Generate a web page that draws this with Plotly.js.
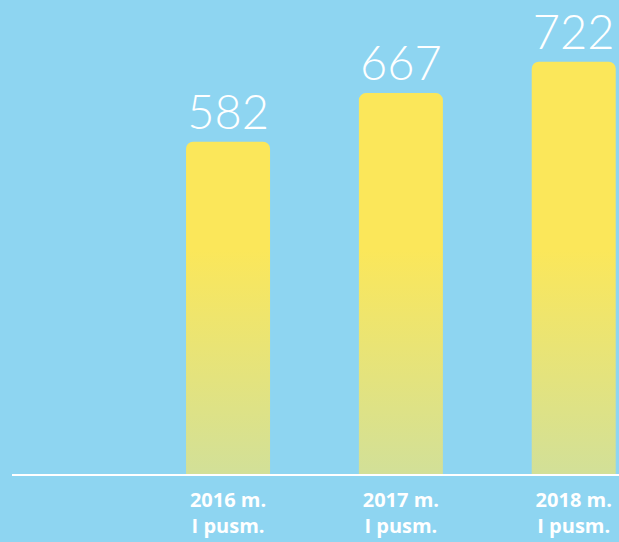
<!DOCTYPE html>
<html>
<head>
<meta charset="utf-8">
<script src="https://cdn.plot.ly/plotly-3.0.1.min.js"></script>
<style>
  html, body { margin: 0; padding: 0; background: #8ed5f1; }
  #chart { width: 619px; height: 542px; }
</style>
</head>
<body>
<div id="chart"></div>
<script>
const categories = ['2016 m.<br>I pusm.', '2017 m.<br>I pusm.', '2018 m.<br>I pusm.'];
const values = [582, 667, 722];
const valueLabels = ['582', '667', '722'];

const trace = {
  type: 'bar',
  x: [0, 1, 2],
  y: values,
  text: valueLabels,
  textposition: 'outside',
  constraintext: 'none',
  cliponaxis: false,
  textfont: { family: 'Lato', size: 47, weight: 300, color: '#ffffff' },
  width: 0.486,
  marker: { color: '#fbe75a', cornerradius: 7, line: { width: 0 } },
  hoverinfo: 'none'
};

const layout = {
  width: 619,
  height: 542,
  margin: { l: 12, r: 0, t: 0, b: 68 },
  paper_bgcolor: '#8ed5f1',
  plot_bgcolor: '#8ed5f1',
  showlegend: false,
  xaxis: {
    range: [-1.25, 2.262],
    tickvals: [0, 1, 2],
    ticktext: categories,
    showgrid: false,
    zeroline: false,
    showline: true,
    linecolor: '#ffffff',
    linewidth: 2,
    ticks: '',
    ticklabelstandoff: 7,
    tickfont: { family: 'Open Sans', size: 20, weight: 700, color: '#ffffff' },
    fixedrange: true
  },
  yaxis: {
    range: [0, 830],
    visible: false,
    showgrid: false,
    zeroline: false,
    fixedrange: true
  }
};

Plotly.newPlot('chart', [trace], layout, { staticPlot: true, displayModeBar: false }).then(function (gd) {
  const svgNS = 'http://www.w3.org/2000/svg';
  const svg = gd.querySelector('.main-svg');
  let defs = svg.querySelector('defs');
  if (!defs) { defs = document.createElementNS(svgNS, 'defs'); svg.insertBefore(defs, svg.firstChild); }
  const grad = document.createElementNS(svgNS, 'linearGradient');
  grad.setAttribute('id', 'barGrad');
  grad.setAttribute('gradientUnits', 'userSpaceOnUse');
  grad.setAttribute('x1', '0'); grad.setAttribute('x2', '0');
  grad.setAttribute('y1', '250'); grad.setAttribute('y2', '474');
  [['0', '#fbe75a'], ['1', '#d2e098']].forEach(function (s) {
    const st = document.createElementNS(svgNS, 'stop');
    st.setAttribute('offset', s[0]);
    st.setAttribute('stop-color', s[1]);
    grad.appendChild(st);
  });
  defs.appendChild(grad);
  gd.querySelectorAll('.barlayer .point path').forEach(function (p) {
    p.style.fill = 'url(#barGrad)';
  });
});
</script>
</body>
</html>
